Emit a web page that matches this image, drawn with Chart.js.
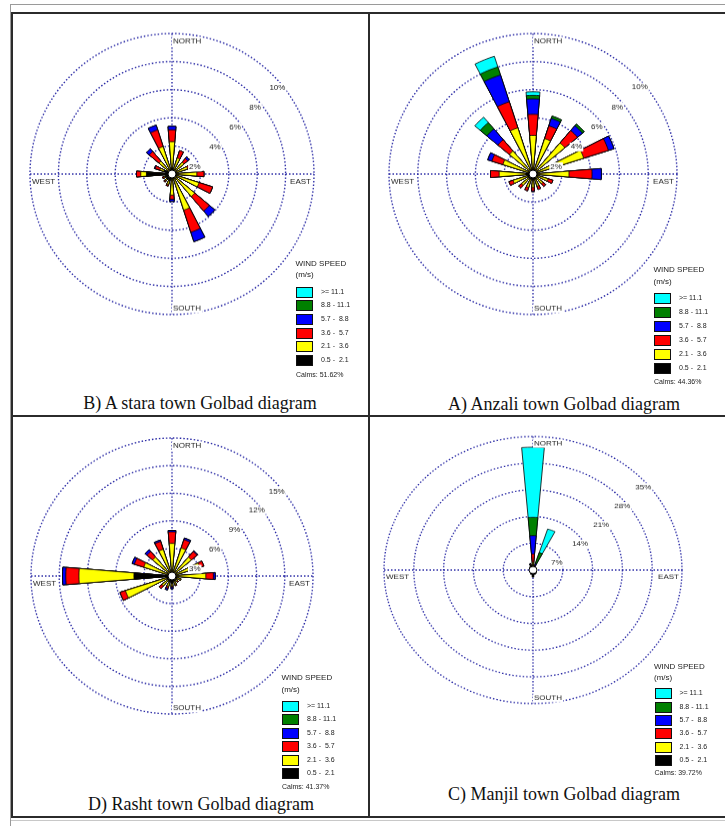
<!DOCTYPE html>
<html>
<head>
<meta charset="utf-8">
<title>Golbad diagrams</title>
<script src="https://cdn.jsdelivr.net/npm/chart.js@4.4.1/dist/chart.umd.min.js"></script>
<style>
  html, body { margin: 0; padding: 0; background: #fff; }
  body { width: 725px; height: 826px; position: relative; overflow: hidden; font-family: "Liberation Sans", Arial, sans-serif; }
  .line { position: absolute; }
  .rose { position: absolute; }
  .caption { position: absolute; font-family: "Liberation Serif", "Times New Roman", serif; font-size: 18px; color: #111; white-space: nowrap; transform: translate(-50%, -50%); }
  .lt { position: absolute; color: #222; white-space: pre; line-height: 10px; height: 10px; }
  .sw { position: absolute; width: 15px; height: 9px; border: 1px solid #111; }
</style>
</head>
<body>
<script>
const directions = ['N', 'NNE', 'NE', 'ENE', 'E', 'ESE', 'SE', 'SSE', 'S', 'SSW', 'SW', 'WSW', 'W', 'WNW', 'NW', 'NNW'];
const speedClasses = ['0.5 -  2.1', '2.1 -  3.6', '3.6 -  5.7', '5.7 -  8.8', '8.8 - 11.1', '>= 11.1'];
const speedColors = ['#000000', '#ffff00', '#ff0000', '#0000ff', '#008000', '#00ffff'];

// frequency (%) per speed class (rows, slow -> fast) and direction (columns)
const astara = [
  [0.4, 0.3, 0.3, 0.3, 0.3, 0.3, 0.3, 0.3, 0.3, 0.5, 0.5, 0.5, 1.8, 0.6, 0.3, 0.3],
  [1.9, 0.9, 0.8, 0.85, 1.45, 1.7, 1.8, 2.4, 1.2, 0.3, 0.15, 0.1, 0.4, 0.3, 0.9, 1.75],
  [0.85, 0.55, 0.35, 0.15, 0.5, 1.0, 1.35, 1.65, 0.3, 0.1, 0.1, 0.1, 0.3, 0.35, 0.9, 1.25],
  [0.25, 0, 0.15, 0, 0, 0, 0.5, 0.7, 0.15, 0, 0, 0, 0, 0.05, 0.25, 0.35],
  [0, 0, 0, 0, 0, 0, 0, 0, 0, 0, 0, 0, 0, 0, 0, 0],
  [0, 0, 0, 0, 0, 0, 0, 0, 0, 0, 0, 0, 0, 0, 0, 0]
];
const anzali = [
  [0.3, 0.3, 0.3, 0.3, 0.3, 0.3, 0.3, 0.4, 0.4, 0.4, 0.4, 0.4, 0.5, 0.3, 0.3, 0.3],
  [2.45, 2.35, 2.6, 3.4, 2.2, 0.8, 0.6, 0.5, 0.55, 0.6, 0.65, 1.05, 1.85, 1.9, 1.85, 3.15],
  [1.5, 0.95, 1.15, 1.8, 1.6, 0.35, 0.25, 0.25, 0.25, 0.25, 0.25, 0.3, 0.6, 0.8, 1.05, 1.95],
  [1.1, 0.55, 0.45, 0.4, 0.65, 0, 0, 0, 0.05, 0, 0, 0, 0, 0.3, 1.0, 2.0],
  [0.25, 0.18, 0.16, 0, 0, 0, 0, 0, 0, 0, 0, 0, 0, 0, 0.6, 0.6],
  [0.25, 0, 0, 0, 0, 0, 0, 0, 0, 0, 0, 0, 0, 0, 0.5, 0.8]
];
const rasht = [
  [0.4, 0.4, 0.4, 0.3, 0.4, 0.5, 0.5, 0.6, 0.8, 0.7, 0.6, 0.6, 4.05, 0.4, 0.4, 0.4],
  [3.15, 2.8, 2.3, 2.8, 3.2, 0.5, 0.3, 0.4, 0.3, 0.5, 0.8, 4.6, 5.85, 2.75, 2.3, 2.65],
  [1.25, 0.95, 0.8, 0.45, 0.8, 0, 0.1, 0.1, 0.1, 0.2, 0.4, 0.6, 1.4, 1.05, 0.8, 0.9],
  [0.15, 0.18, 0.08, 0, 0.2, 0, 0, 0, 0.2, 0.2, 0, 0, 0.35, 0.25, 0.25, 0.15],
  [0, 0, 0, 0, 0, 0, 0, 0, 0, 0, 0, 0, 0, 0, 0, 0],
  [0, 0, 0, 0, 0, 0, 0, 0, 0, 0, 0, 0, 0, 0, 0, 0]
];
const manjil = [
  [1.0, 0.6, 0.6, 0.5, 0.7, 0.6, 1.0, 1.2, 1.8, 1.2, 0.8, 0.6, 0.8, 0.7, 1.0, 1.4],
  [1.0, 0.3, 0, 0, 0, 0, 0, 0, 0, 0, 0, 0, 0, 0, 0, 0],
  [2.2, 0.3, 0, 0, 0, 0, 0, 0, 0, 0, 0, 0, 0, 0, 0, 0.2],
  [4.8, 0.6, 0, 0, 0, 0, 0, 0, 0, 0, 0, 0, 0, 0, 0, 0.2],
  [4.8, 3.0, 0, 0, 0, 0, 0, 0, 0, 0, 0, 0, 0, 0, 0, 0],
  [18.4, 6.5, 0, 0, 0, 0, 0, 0, 0, 0, 0, 0, 0, 0, 0, 0]
];

const calms = ['51.62', '44.36', '41.37', '39.72'];
const captions = ['B) A stara town Golbad diagram', 'A) Anzali town Golbad diagram', 'D) Rasht town Golbad diagram', 'C) Manjil town Golbad diagram'];
const ringMax = [10, 10, 15, 35];
const ringStep = [2, 2, 3, 7];

const GRID_COLOR = '#2c2ca6';
const GRID_DASH = [1.5, 2];
const BAR_ANGLE = 9.5;
const GAP_ANGLE = 22.5 - BAR_ANGLE;

// layout of the four panels
const panels = [
  { data: astara, cx: 172, cy: 174, rx: 142, ry: 140.5, capX: 200, capY: 403,
    leg: { x: 296, title: 263.5, unit: 275, row0: 291.7, step: 13.66, calm: 375 } },
  { data: anzali, cx: 533, cy: 174, rx: 144, ry: 140.5, capX: 564, capY: 404,
    leg: { x: 654, title: 270, unit: 282, row0: 297.7, step: 14, calm: 381.7 } },
  { data: rasht, cx: 172, cy: 576, rx: 141, ry: 138, capX: 201, capY: 804,
    leg: { x: 282, title: 678.3, unit: 689.5, row0: 705.7, step: 13.5, calm: 786.7 } },
  { data: manjil, cx: 533, cy: 570, rx: 149, ry: 133.5, capX: 564, capY: 794,
    leg: { x: 654.5, title: 666.7, unit: 678, row0: 693.3, step: 13.34, calm: 773.3 } }
];

function addLine(x, y, w, h, color) {
  const d = document.createElement('div');
  d.className = 'line';
  d.style.left = x + 'px'; d.style.top = y + 'px';
  d.style.width = w + 'px'; d.style.height = h + 'px';
  d.style.background = color;
  document.body.appendChild(d);
}

function addText(cls, text, x, y, size) {
  const d = document.createElement('div');
  d.className = cls;
  d.textContent = text;
  d.style.left = x + 'px';
  d.style.top = (y - 5) + 'px';
  if (size) d.style.fontSize = size + 'px';
  document.body.appendChild(d);
  return d;
}

// frame
addLine(10, 4, 715, 1, '#9a9a9a');
addLine(10, 4, 1, 822, '#9a9a9a');
addLine(11, 12, 714, 2, '#2b2b2b');
addLine(11, 12, 2, 806, '#2b2b2b');
addLine(368, 12, 2, 806, '#2b2b2b');
addLine(11, 415, 714, 2, '#2b2b2b');
addLine(11, 816, 714, 2, '#2b2b2b');
addLine(11, 820, 714, 1, '#c8c8c8');

function cumulative(rows) {
  const out = [];
  let run = new Array(directions.length).fill(0);
  rows.forEach(row => {
    run = run.map((v, i) => v + row[i]);
    out.push(run.slice());
  });
  return out;
}

const roseDecor = {
  id: 'roseDecor',
  beforeDatasetsDraw(chart) {
    const s = chart.scales.r, ctx = chart.ctx;
    const R = s.drawingArea, cx = s.xCenter, cy = s.yCenter;
    ctx.save();
    ctx.strokeStyle = GRID_COLOR;
    ctx.lineWidth = 1.4;
    ctx.setLineDash(GRID_DASH);
    ctx.beginPath();
    ctx.moveTo(cx, cy - R); ctx.lineTo(cx, cy + R);
    ctx.moveTo(cx - R, cy); ctx.lineTo(cx + R, cy);
    ctx.stroke();
    ctx.restore();
  },
  afterDatasetsDraw(chart) {
    const s = chart.scales.r, ctx = chart.ctx;
    const R = s.drawingArea, cx = s.xCenter, cy = s.yCenter;
    ctx.save();
    ctx.beginPath();
    ctx.arc(cx, cy, 4, 0, Math.PI * 2);
    ctx.fillStyle = '#fff';
    ctx.fill();
    ctx.lineWidth = 1;
    ctx.strokeStyle = '#000';
    ctx.stroke();

    ctx.font = '8px "Liberation Sans", Arial, sans-serif';
    ctx.textBaseline = 'middle';
    const label = (txt, x, y, align) => {
      const w = ctx.measureText(txt).width;
      const left = align === 'right' ? x - w : x;
      ctx.fillStyle = '#fff';
      ctx.fillRect(left - 1, y - 4.5, w + 2, 9);
      ctx.fillStyle = '#222';
      ctx.textAlign = 'left';
      ctx.fillText(txt, left, y);
    };
    label('NORTH', cx + 1, cy - R + 8);
    label('SOUTH', cx + 1, cy + R - 6);
    label('WEST', cx - R + 2, cy + 8);
    label('EAST', cx + R - 3, cy + 8, 'right');
    s.ticks.forEach(t => {
      if (t.value === 0) return;
      const r = s.getDistanceFromCenterForValue(t.value);
      label(t.value + '%', cx + r * Math.SQRT1_2 - 3, cy - r * Math.SQRT1_2 + 13);
    });
    ctx.restore();
  }
};

panels.forEach((p, k) => {
  const size = 2 * p.rx + 20;
  const canvas = document.createElement('canvas');
  canvas.width = size;
  canvas.height = size;
  canvas.className = 'rose';
  canvas.style.left = (p.cx - p.rx - 10) + 'px';
  canvas.style.top = (p.cy - p.rx - 10) + 'px';
  canvas.style.width = size + 'px';
  canvas.style.height = size + 'px';
  canvas.style.transformOrigin = (p.rx + 10) + 'px ' + (p.rx + 10) + 'px';
  canvas.style.transform = 'scaleY(' + (p.ry / p.rx) + ')';
  document.body.appendChild(canvas);

  const cum = cumulative(p.data);
  const labels = directions.flatMap(d => [d, '']);
  const datasets = cum.map((vals, i) => ({
    label: speedClasses[i],
    data: vals.flatMap(v => [v, 0]),
    backgroundColor: speedColors[i],
    borderColor: '#000',
    borderWidth: ctx => (ctx.raw > 0 ? 0.8 : 0),
    angle: ctx => (ctx.dataIndex % 2 === 0 ? BAR_ANGLE : GAP_ANGLE)
  }));

  new Chart(canvas, {
    type: 'polarArea',
    data: { labels: labels, datasets: datasets },
    options: {
      responsive: false,
      animation: false,
      events: [],
      layout: { padding: 10 },
      plugins: { legend: { display: false }, tooltip: { enabled: false } },
      scales: {
        r: {
          min: 0,
          max: ringMax[k],
          startAngle: -BAR_ANGLE / 2,
          ticks: { display: false, stepSize: ringStep[k] },
          grid: { circular: true, color: GRID_COLOR, lineWidth: 1.4, borderDash: GRID_DASH },
          border: { dash: GRID_DASH },
          angleLines: { display: false },
          pointLabels: { display: false }
        }
      }
    },
    plugins: [roseDecor]
  });

  // legend
  const L = p.leg;
  addText('lt', 'WIND SPEED', L.x - 0.5, L.title, 8);
  addText('lt', '(m/s)', L.x - 0.5, L.unit, 8);
  for (let i = 0; i < speedClasses.length; i++) {
    const cls = speedClasses.length - 1 - i;
    const y = L.row0 + i * L.step;
    const sw = document.createElement('div');
    sw.className = 'sw';
    sw.style.left = L.x + 'px';
    sw.style.top = (y - 5) + 'px';
    sw.style.background = speedColors[cls];
    document.body.appendChild(sw);
    addText('lt', speedClasses[cls], L.x + 25, y, 7);
  }
  addText('lt', 'Calms: ' + calms[k] + '%', L.x, L.calm, 7);

  const cap = document.createElement('div');
  cap.className = 'caption';
  cap.textContent = captions[k];
  cap.style.left = p.capX + 'px';
  cap.style.top = p.capY + 'px';
  document.body.appendChild(cap);
});
</script>
</body>
</html>
